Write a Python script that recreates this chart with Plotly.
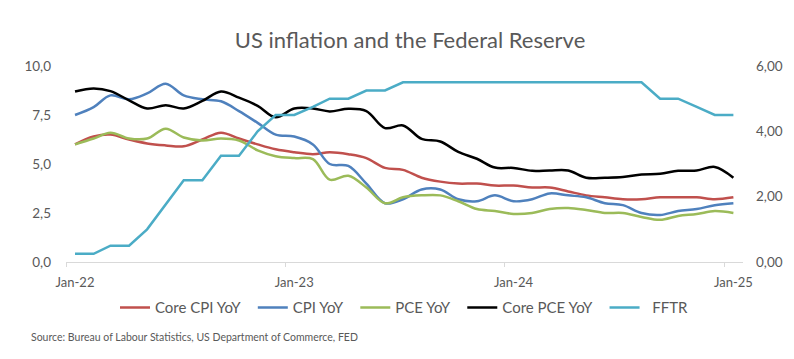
import pandas as pd
import plotly.graph_objects as go

# Monthly observations, Jan-22 .. Jan-25
months = pd.date_range("2022-01-01", "2025-01-01", freq="MS")

core_cpi = [6.0, 6.4, 6.5, 6.25, 6.05, 5.95, 5.9, 6.25, 6.6, 6.3, 6.0, 5.75,
            5.6, 5.5, 5.6, 5.5, 5.3, 4.8, 4.7, 4.3, 4.1, 4.0, 4.0, 3.9,
            3.9, 3.8, 3.8, 3.6, 3.4, 3.3, 3.2, 3.2, 3.3, 3.3, 3.3, 3.2, 3.3]
cpi = [7.5, 7.9, 8.5, 8.3, 8.6, 9.1, 8.5, 8.3, 8.2, 7.7, 7.1, 6.5,
       6.4, 6.0, 5.0, 4.9, 4.0, 3.0, 3.2, 3.7, 3.7, 3.2, 3.1, 3.4,
       3.1, 3.2, 3.5, 3.4, 3.3, 3.0, 2.9, 2.5, 2.4, 2.6, 2.7, 2.9, 3.0]
pce = [6.0, 6.3, 6.6, 6.3, 6.3, 6.8, 6.35, 6.2, 6.3, 6.2, 5.7, 5.4,
       5.3, 5.25, 4.2, 4.4, 3.8, 3.0, 3.3, 3.4, 3.4, 3.1, 2.7, 2.6,
       2.45, 2.5, 2.7, 2.75, 2.65, 2.5, 2.5, 2.3, 2.15, 2.35, 2.45, 2.6, 2.5]
core_pce = [5.22, 5.31, 5.23, 4.95, 4.70, 4.80, 4.70, 4.93, 5.22, 5.03, 4.78, 4.43,
            4.70, 4.70, 4.61, 4.69, 4.62, 4.10, 4.18, 3.77, 3.69, 3.37, 3.16, 2.89,
            2.88, 2.79, 2.80, 2.80, 2.58, 2.58, 2.60, 2.68, 2.70, 2.79, 2.80, 2.91, 2.58]
fftr = [0.25, 0.25, 0.5, 0.5, 1.0, 1.75, 2.5, 2.5, 3.25, 3.25, 4.0, 4.5,
        4.5, 4.75, 5.0, 5.0, 5.25, 5.25, 5.5, 5.5, 5.5, 5.5, 5.5, 5.5,
        5.5, 5.5, 5.5, 5.5, 5.5, 5.5, 5.5, 5.5, 5.0, 5.0, 4.75, 4.5, 4.5]

year_ticks = ["2022-01-01", "2023-01-01", "2024-01-01", "2025-01-01"]
year_labels = ["Jan-22", "Jan-23", "Jan-24", "Jan-25"]
left_ticks = [0, 2.5, 5, 7.5, 10]
right_ticks = [0, 2, 4, 6]

# points sit in the middle of each month (between tick marks)
x_mid = months + pd.Timedelta(days=15)

FONT = "Lato"
GREY = "#595959"
NB = "\u00a0"

series = [
    ("Core CPI YoY" + NB * 2, core_cpi, "#C0504D", "y", True),
    ("CPI YoY" + NB * 2, cpi, "#4F81BD", "y", True),
    ("PCE YoY" + NB * 2, pce, "#9BBB59", "y", True),
    ("Core PCE YoY" + NB * 2, core_pce, "#000000", "y2", True),
    (NB * 2 + "FFTR", fftr, "#4BACC6", "y2", False),
]

fig = go.Figure()
for name, vals, color, axis, smooth in series:
    line = dict(color=color, width=2.5)
    if smooth:
        line.update(shape="spline", smoothing=1.0)
    fig.add_trace(go.Scatter(x=x_mid, y=vals, name=name, mode="lines",
                             line=line, yaxis=axis, hoverinfo="x+y+name"))

fig.add_annotation(text="Source: Bureau of Labour Statistics, US Department of Commerce, FED",
                   xref="paper", yref="paper", x=(21 - 58) / 677, y=(254.3 - 329.5) / 196.3,
                   xanchor="left", yanchor="middle", showarrow=False,
                   font=dict(family=FONT, size=10.5, color=GREY))

fig.update_layout(
    width=794, height=359,
    margin=dict(l=58, r=59, t=58, b=105, autoexpand=False),
    paper_bgcolor="white", plot_bgcolor="white",
    separators=",.",
    font=dict(family=FONT, color=GREY),
    title=dict(text="US inflation and the Federal Reserve", xref="container", yref="container",
               x=402 / 794, y=1 - 32 / 359, xanchor="center", yanchor="middle",
               font=dict(family=FONT, size=22, color=GREY)),
    showlegend=True,
    legend=dict(orientation="h", x=0.5, xanchor="center", y=(254.3 - 300) / 196.3, yanchor="middle",
                font=dict(family=FONT, size=15, color=GREY), bgcolor="rgba(0,0,0,0)",
                itemwidth=30, tracegroupgap=0),
    xaxis=dict(type="date", range=["2022-01-01", "2025-02-01"], tickvals=year_ticks, ticktext=year_labels,
               showgrid=False, zeroline=False, showline=True, linecolor="#D9D9D9", linewidth=1,
               ticks="outside", ticklen=4, tickcolor="#D9D9D9", tickwidth=1,
               ticklabelshift=9, ticklabelstandoff=4,
               tickfont=dict(family=FONT, size=13, color=GREY)),
    yaxis=dict(range=[0, 10], tickvals=left_ticks, tickformat=".1f", showgrid=False, zeroline=False,
               showline=False, ticks="", ticklabelstandoff=14,
               tickfont=dict(family=FONT, size=13.5, color=GREY)),
    yaxis2=dict(range=[0, 6], tickvals=right_ticks, tickformat=".2f", overlaying="y", side="right",
                showgrid=False, zeroline=False, showline=False, ticks="", ticklabelstandoff=12,
                tickfont=dict(family=FONT, size=13.5, color=GREY)),
)

fig.write_html("out.html")
